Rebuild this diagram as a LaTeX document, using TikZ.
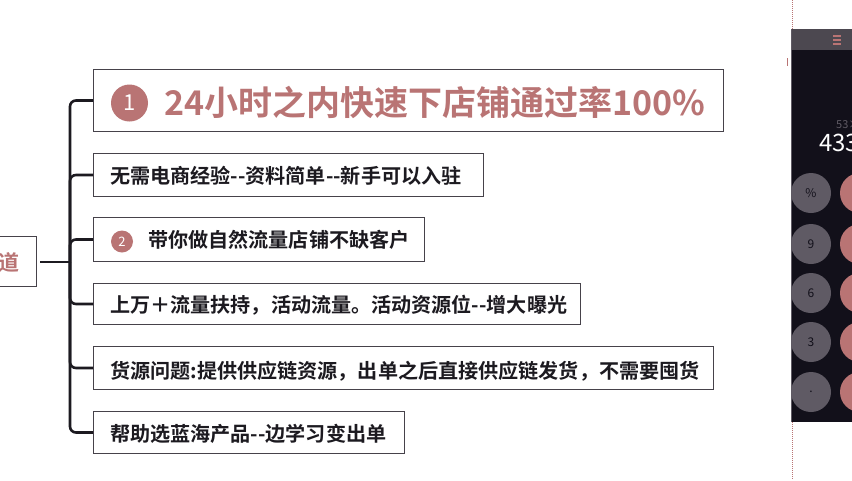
\documentclass[tikz,border=0pt]{standalone}
\usepackage{fontspec}
\setmainfont{Noto Sans CJK SC}[BoldFont={Noto Sans CJK SC Bold}]
\definecolor{rose}{RGB}{185,116,116}
\definecolor{ink}{RGB}{28,26,32}
\definecolor{boxline}{RGB}{70,66,74}
\definecolor{calcbg}{RGB}{18,16,26}
\definecolor{calcgray}{RGB}{95,90,100}
\begin{document}
\begin{tikzpicture}[x=1pt,y=-1pt,
  box/.style={draw=boxline,line width=1pt,anchor=north west,inner sep=0pt},
  conn/.style={draw=ink,line width=2.6pt,rounded corners=6pt},
  itemtxt/.style={anchor=west,inner sep=0pt,text=ink,font=\bfseries\fontsize{20.1}{22}\selectfont},
  numcirc/.style={circle,fill=rose,text=white,inner sep=0pt},
  keyg/.style={circle,fill=calcgray,minimum size=40pt,inner sep=0pt,text=calcbg,font=\fontsize{12}{12}\selectfont},
  keyr/.style={circle,fill=rose,minimum size=40pt,inner sep=0pt}]
\useasboundingbox (0,0) rectangle (852,480);
\fill[white] (0,0) rectangle (852,480);

% root (cut off on the left)
\node[box,minimum width=86pt,minimum height=50pt] (root) at (-50,236) {};
\node[anchor=west,inner sep=0pt,text=rose,font=\bfseries\fontsize{21}{22}\selectfont] (roottxt) at (-2,262) {道};

% boxes
\node[box,minimum width=630pt,minimum height=62pt] (b1) at (93,69) {};
\node[box,minimum width=390pt,minimum height=43pt] (b2) at (93,153) {};
\node[box,minimum width=331pt,minimum height=44pt] (b3) at (93,217) {};
\node[box,minimum width=487pt,minimum height=41pt] (b4) at (93,283) {};
\node[box,minimum width=620pt,minimum height=43pt] (b5) at (93,346) {};
\node[box,minimum width=311pt,minimum height=42pt] (b6) at (93,411) {};

% texts
\node[numcirc,minimum size=37pt,font=\fontsize{22}{22}\selectfont] (n1) at (129.5,103) {1};
\node[anchor=west,inner sep=0pt,text=rose,font=\bfseries\fontsize{34}{36}\selectfont] (t1) at (164,102) {24小时之内快速下店铺通过率100\%};
\node[itemtxt] (t2) at (110,176) {无需电商经验-{}-资料简单-{}-新手可以入驻};
\node[numcirc,minimum size=22pt,font=\fontsize{13}{13}\selectfont] (n2) at (122,241.5) {2};
\node[itemtxt] (t3) at (148,240) {带你做自然流量店铺不缺客户};
\node[itemtxt] (t4) at (110,305) {上万＋流量扶持，活动流量。活动资源位-{}-增大曝光};
\node[itemtxt] (t5) at (110,371) {货源问题:提供供应链资源，出单之后直接供应链发货，不需要囤货};
\node[itemtxt] (t6) at (110,434) {帮助选蓝海产品-{}-边学习变出单};

% connectors
\coordinate (hub) at (70,262);
\draw[conn,rounded corners=0pt] (40,262) -- (hub);
\draw[conn] (hub) |- (b1.west);
\draw[conn] (hub) |- (b2.west);
\draw[conn] (hub) |- (b3.west);
\draw[conn] (hub) |- (b4.west);
\draw[conn] (hub) |- (b5.west);
\draw[conn] (hub) |- (b6.west);

% calculator window on the right
\draw[rose,line width=1pt,densely dotted] (792,0) -- (792,29);
\draw[rose,line width=1pt,densely dotted] (792,422) -- (792,480);
\fill[calcbg] (791,29) rectangle (852,422);
\fill[calcgray!80!black] (791,29) rectangle (852,50);
\draw[calcgray,line width=1pt] (791.5,29) -- (791.5,422);
\draw[rose,line width=1.3pt] (833,36) -- (841,36) (833,40) -- (841,40) (833,44) -- (841,44);
\draw[rose,line width=1pt] (787,58) -- (787,66);
\node[anchor=west,inner sep=0pt,text=calcgray,font=\fontsize{11}{11}\selectfont] (expr) at (836,125) {53×};
\node[anchor=west,inner sep=0pt,text=white,font=\fontsize{24}{24}\selectfont] (res) at (819,143) {433};
\node[keyg] (kp) at (811,193) {\%};
\node[keyg] (k9) at (811,244) {9};
\node[keyg] (k6) at (811,293) {6};
\node[keyg] (k3) at (811,342) {3};
\node[keyg] (kd) at (811,392) {.};
\node[keyr] (r1) at (860,193) {};
\node[keyr] (r2) at (860,244) {};
\node[keyr] (r3) at (860,293) {};
\node[keyr] (r4) at (860,342) {};
\node[keyr] (r5) at (860,392) {};
\end{tikzpicture}
\end{document}
